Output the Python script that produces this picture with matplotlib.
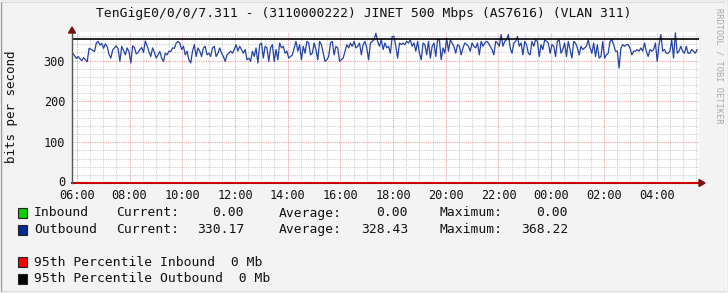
import matplotlib
matplotlib.use('Agg')
import matplotlib.pyplot as plt
from matplotlib.patches import Rectangle, Polygon
import matplotlib.transforms as mtrans
import numpy as np

plt.rcParams['font.family'] = 'DejaVu Sans Mono'

title = 'TenGigE0/0/0/7.311 - (3110000222) JINET 500 Mbps (AS7616) (VLAN 311)'

# outbound traffic (Mbps), 06:00 -> 05:30 next day
outbound = [
    318, 312, 305, 310, 304, 300, 307, 302, 297, 330, 328, 325, 322, 343, 347, 338, 342, 330, 341, 334,
    315, 306, 326, 331, 336, 329, 298, 335, 325, 314, 331, 322, 294, 336, 332, 316, 320, 327, 332, 320,
    348, 336, 322, 310, 331, 320, 306, 314, 322,
    306, 298, 318, 314, 323, 322, 331, 330, 343, 347, 343, 327, 335, 314, 323, 302, 294, 323, 339, 310,
    331, 323, 310, 331, 335, 314, 318, 310, 331, 335, 310, 318, 331, 318, 310, 298, 314, 318, 323, 318,
    327, 339, 323, 335, 327, 318, 327, 302, 306, 298, 323, 310, 331, 294, 339, 343, 306, 335, 331, 298,
    331, 339, 298,
    327, 302, 343, 331, 335, 318, 323, 306, 310, 314, 331, 347, 323, 339, 302, 335, 318, 347, 343, 314,
    318, 343, 327, 302, 347, 339, 318, 298, 302, 310, 343, 347, 314, 335, 331, 298, 302, 306, 323, 339,
    331, 343, 335, 347, 331, 335, 343, 314, 339, 347, 331, 302, 343, 347, 351, 367, 347, 335, 351, 327,
    343, 331, 335, 318, 359, 359, 335, 306, 343, 339, 343, 339, 347, 343, 351, 335, 343, 323, 347, 318,
    302, 343, 339, 314, 347, 306, 335, 343, 310, 351, 351, 302, 331, 318, 355, 323, 351, 343, 335, 318,
    339, 335, 314, 331, 343, 339, 335, 323, 343, 335, 331, 343, 314, 347, 335, 343, 347, 343, 335, 327,
    314, 347, 343, 335, 364, 335, 347, 351, 364, 331, 318, 343, 347, 359, 335, 343, 314, 347, 339, 318,
    314, 347, 335, 351, 347, 310, 339, 327, 351, 347, 343, 318, 339, 335, 310, 347, 351, 318, 327, 343,
    310, 347, 327, 306, 347, 343, 331, 314, 335, 327, 331, 335, 351, 331, 318, 343, 310, 339, 306, 310,
    347, 306, 314, 318, 347, 351, 339, 323, 323, 282, 331, 339, 335, 339, 339, 331, 314, 323, 323, 327,
    323, 331, 323, 343, 323, 310, 327, 323, 327, 343, 298, 339, 364, 323, 327, 318, 318, 323, 351, 306,
    368, 318, 323, 335, 323, 318, 335, 318, 318, 327, 323, 318, 327,
]
start_h, end_h = 5.845, 29.54
x_start, x_end = 5.818, 29.61
pct95_out = 352
pct95_in = 0

hour_ticks = list(range(6, 30, 2))
hour_labels = ['%02d:00' % (h % 24) for h in hour_ticks]
y_ticks = [0, 100, 200, 300]

legend_rows = [
    ('#00CF00', 'Inbound', '0.00', '0.00', '0.00'),
    ('#002A97', 'Outbound', '330.17', '328.43', '368.22'),
]
pct_rows = [
    ('#FF0000', '95th Percentile Inbound  0 Mb'),
    ('#000000', '95th Percentile Outbound  0 Mb'),
]

W, H = 728, 293
fig = plt.figure(figsize=(W / 100, H / 100), dpi=100, facecolor='#F3F3F3')


def fx(x):
    return x / W


def fy(y):
    return 1 - y / H


# 3d-ish border
fig.patches.append(Rectangle((0, 0), 1, 1, transform=fig.transFigure, fill=False,
                             edgecolor='#9E9E9E', lw=2.5))
fig.patches.append(Rectangle((0, 0), 1 - 1.5 / W, 1 - 1 / H, transform=fig.transFigure,
                             fill=False, edgecolor='#FCFCFC', lw=1.2))

ax = fig.add_axes([fx(72), fy(183), 627 / W, 151 / H])
ax.set_facecolor('white')
for s in ax.spines.values():
    s.set_visible(False)

ax.set_xlim(x_start, x_end)
ax.set_ylim(0, 370)

# grid
for v in np.arange(6, 30, 0.5):
    if v % 2:
        ax.axvline(v, color='#CFCFCF', lw=0.8, ls=(0, (1, 1)), zorder=1)
for v in range(0, 371, 20):
    if v % 100:
        ax.axhline(v, color='#CFCFCF', lw=0.8, ls=(0, (1, 1)), zorder=1)
for v in hour_ticks:
    ax.axvline(v, color='#EFA0A0', lw=0.8, ls=(0, (1, 1)), zorder=1.5)
for v in y_ticks[1:]:
    ax.axhline(v, color='#EFA0A0', lw=0.8, ls=(0, (1, 1)), zorder=1.5)

t = np.linspace(start_h, end_h, len(outbound))
ax.plot(t, outbound, color='#2443A3', lw=0.9, zorder=3)
ax.axhline(pct95_out, color='black', lw=1.2, zorder=4)
ax.axhline(pct95_in, color='#CC0000', lw=1.5, zorder=4, clip_on=False)
ax.axvline(x_start, color='#555555', lw=1.0, zorder=4, clip_on=False)

ax.set_xticks(hour_ticks)
ax.set_xticklabels(hour_labels)
ax.set_yticks(y_ticks)
ax.tick_params(axis='both', length=0, labelsize=8.6, colors='#111111')
ax.tick_params(axis='x', pad=4.5)
ax.tick_params(axis='y', pad=5)
# nudge the "0" label up a little so it clears the 06:00 label
zero_lbl = ax.get_yticklabels()[0]
zero_lbl.set_transform(zero_lbl.get_transform()
                       + mtrans.ScaledTranslation(0, 2.5 / 100, fig.dpi_scale_trans))

# axis arrows
fig.patches.append(Polygon([(fx(699), fy(179.5)), (fx(699), fy(186.5)), (fx(705), fy(183))],
                           closed=True, transform=fig.transFigure, color='#7A1010'))
fig.patches.append(Polygon([(fx(68.5), fy(33)), (fx(75.5), fy(33)), (fx(72), fy(27))],
                           closed=True, transform=fig.transFigure, color='#7A1010'))

fig.text(fx(364), fy(13), title, ha='center', va='center', fontsize=9.4, color='#111111')
fig.text(fx(12), fy(107), 'bits per second', rotation=90, ha='center', va='center',
         fontsize=9, color='#111111')
fig.text(fx(719), fy(8), 'RRDTOOL / TOBI OETIKER', rotation=270, ha='center', va='top',
         fontsize=6.2, color='#AAAAAA')

fs = 9.4
for i, (col, name, cur, avg, mx) in enumerate(legend_rows):
    y = 213 + i * 16.5
    fig.patches.append(Rectangle((fx(17.5), fy(y + 5)), 9 / W, 10 / H, transform=fig.transFigure,
                                 facecolor=col, edgecolor='#222222', lw=0.8))
    fig.text(fx(34), fy(y), name, ha='left', va='center', fontsize=fs, color='#111111')
    fig.text(fx(116), fy(y), 'Current:', ha='left', va='center', fontsize=fs, color='#111111')
    fig.text(fx(244), fy(y), cur, ha='right', va='center', fontsize=fs, color='#111111')
    fig.text(fx(279), fy(y), 'Average:', ha='left', va='center', fontsize=fs, color='#111111')
    fig.text(fx(408), fy(y), avg, ha='right', va='center', fontsize=fs, color='#111111')
    fig.text(fx(440), fy(y), 'Maximum:', ha='left', va='center', fontsize=fs, color='#111111')
    fig.text(fx(568), fy(y), mx, ha='right', va='center', fontsize=fs, color='#111111')

for i, (col, label) in enumerate(pct_rows):
    y = 262 + i * 16.5
    fig.patches.append(Rectangle((fx(17.5), fy(y + 5)), 9 / W, 10 / H, transform=fig.transFigure,
                                 facecolor=col, edgecolor='#222222', lw=0.8))
    fig.text(fx(34), fy(y), label, ha='left', va='center', fontsize=fs, color='#111111')

fig.savefig('out.png', dpi=100, facecolor=fig.get_facecolor())
